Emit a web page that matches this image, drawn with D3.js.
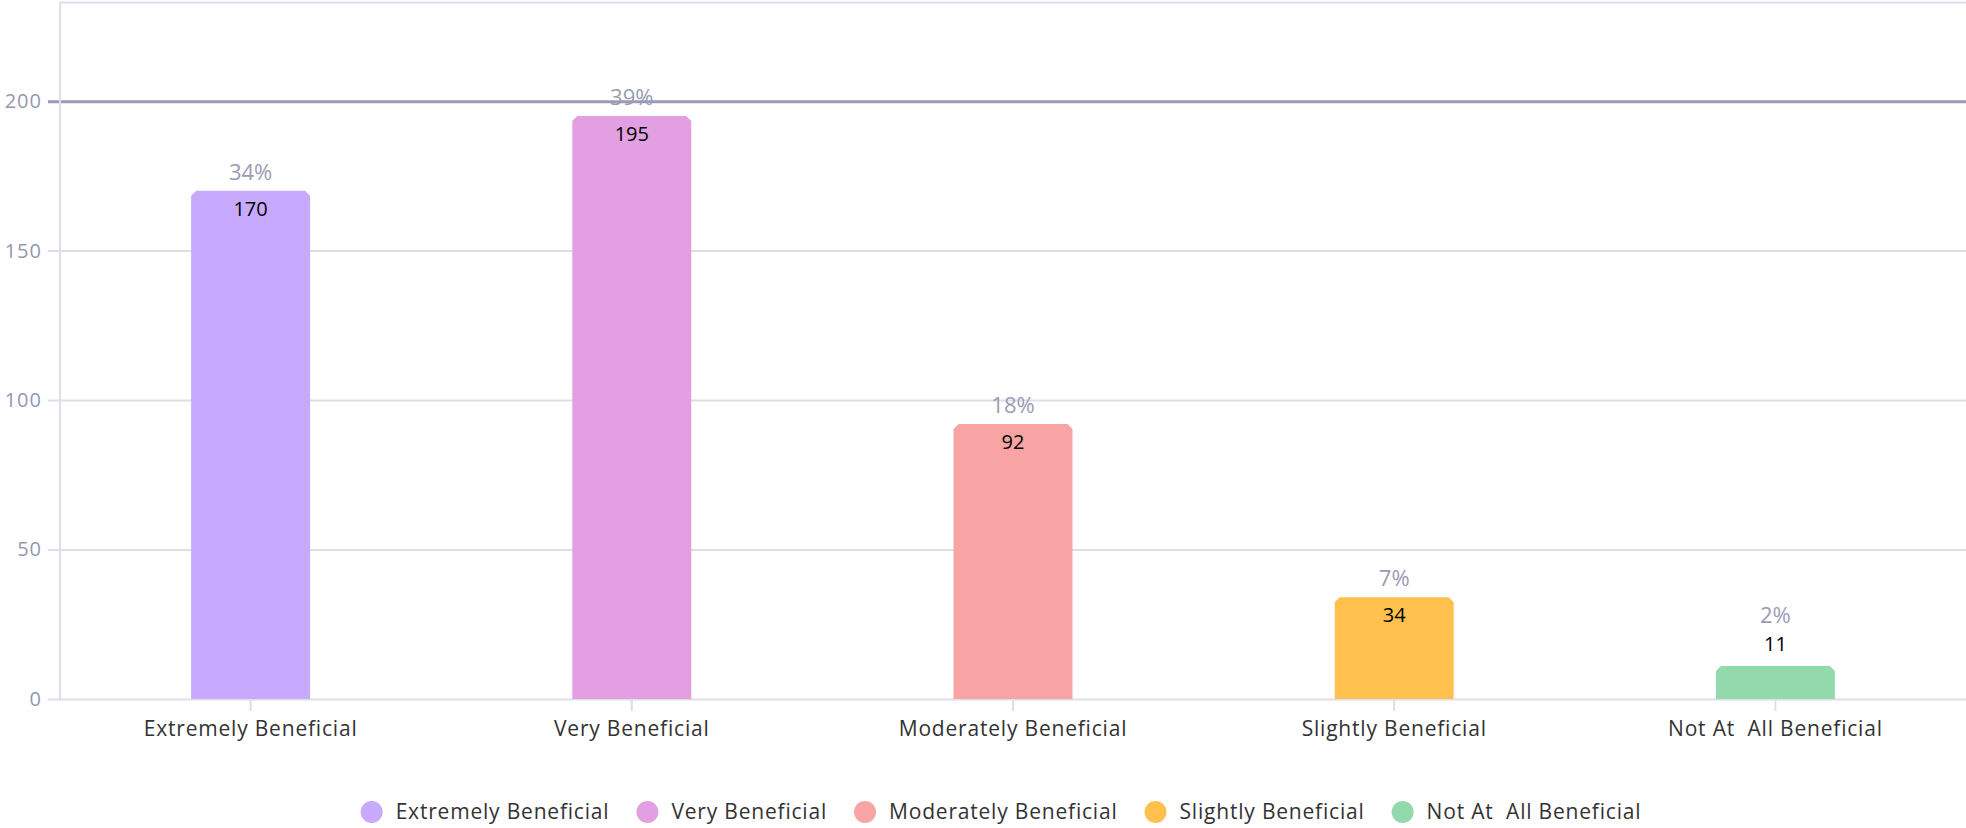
<!DOCTYPE html>
<html>
<head>
<meta charset="utf-8">
<script src="https://cdn.jsdelivr.net/npm/d3@7"></script>
<style>
    body { margin: 0; background: #fff; }
    svg { display: block; }
</style>
</head>
<body>
<div id="main"></div>
<script>
// data
const categories = ["Extremely Beneficial", "Very Beneficial", "Moderately Beneficial", "Slightly Beneficial", "Not At  All Beneficial"];
const counts = [170, 195, 92, 34, 11];
const percents = ["34%", "39%", "18%", "7%", "2%"];
const colors = ["#c7a9fe", "#e2a0e2", "#f9a4a4", "#ffc04e", "#92d9ac"];
const yTicks = [0, 50, 100, 150, 200];
const highlightValue = 200;

const ctx = {
    w: 1966,
    h: 828,
    left: 60,
    right: 1966,
    top: 2.5,
    bottom: 699,
    yMax: 233,
    font: "'Open Sans', 'DejaVu Sans', sans-serif",
    gridColor: "#dedeea",
    tickColor: "#9398b2",
    legendCenter: 1001,
};

function createViz() {
    let svg = d3.select("#main").append("svg")
        .attr("width", ctx.w)
        .attr("height", ctx.h)
        .style("font-family", ctx.font);

    let x = d3.scaleBand()
        .domain(categories)
        .range([ctx.left, ctx.right])
        .paddingInner(0.688)
        .paddingOuter(0.344);

    let y = d3.scaleLinear()
        .domain([0, ctx.yMax])
        .range([ctx.bottom, ctx.top]);

    // frame: top border
    svg.append("line")
        .attr("x1", ctx.left).attr("x2", ctx.right)
        .attr("y1", ctx.top).attr("y2", ctx.top)
        .style("stroke", ctx.gridColor).style("stroke-width", 2);

    // y axis with gridlines
    let yAxis = d3.axisLeft(y)
        .tickValues(yTicks)
        .tickPadding(6);

    let gy = svg.append("g")
        .attr("transform", `translate(${ctx.left},0)`)
        .call(yAxis);
    gy.select(".domain").remove();
    gy.selectAll(".tick line")
        .attr("x1", -12)
        .attr("x2", ctx.right - ctx.left)
        .style("stroke", d => d === highlightValue ? "#9a9cb4" : ctx.gridColor)
        .style("stroke-width", d => d === highlightValue ? 3 : 2);
    gy.selectAll(".tick text")
        .attr("x", -18)
        .style("fill", ctx.tickColor)
        .style("font-size", "20px")
        .style("font-family", ctx.font)
        .style("letter-spacing", "1px");

    svg.append("line")
        .attr("x1", ctx.left).attr("x2", ctx.left)
        .attr("y1", ctx.top).attr("y2", ctx.bottom)
        .style("stroke", ctx.gridColor).style("stroke-width", 2);

    // x axis
    let xAxis = d3.axisBottom(x).tickSize(12).tickPadding(10);
    let gx = svg.append("g")
        .attr("transform", `translate(0,${ctx.bottom})`)
        .call(xAxis);
    gx.select(".domain").remove();
    gx.selectAll(".tick line").style("stroke", ctx.gridColor).style("stroke-width", 2);
    gx.selectAll(".tick text")
        .style("fill", "#333")
        .style("font-size", "21px")
        .style("font-family", ctx.font)
        .style("letter-spacing", "0.8px")
        .style("white-space", "pre");

    // bars with chamfered top corners
    const c = 5;
    let bars = svg.append("g").selectAll("g")
        .data(categories)
        .enter().append("g");

    bars.append("path")
        .attr("d", (d, i) => {
            let x0 = x(d), x1 = x(d) + x.bandwidth();
            let yt = y(counts[i]), yb = y(0);
            return `M${x0},${yb}L${x0},${yt + c}L${x0 + c},${yt}L${x1 - c},${yt}L${x1},${yt + c}L${x1},${yb}Z`;
        })
        .style("fill", (d, i) => colors[i]);

    bars.append("text")
        .attr("x", d => x(d) + x.bandwidth() / 2)
        .attr("y", (d, i) => {
            let yt = y(counts[i]);
            return (y(0) - yt) < 45 ? yt - 15 : yt + 25;
        })
        .attr("text-anchor", "middle")
        .style("font-size", "20px")
        .style("fill", "#000")
        .text((d, i) => counts[i]);

    bars.append("text")
        .attr("x", d => x(d) + x.bandwidth() / 2)
        .attr("y", (d, i) => {
            let yt = y(counts[i]);
            return (y(0) - yt) < 45 ? yt - 43 : yt - 11;
        })
        .attr("text-anchor", "middle")
        .style("font-size", "22px")
        .style("fill", "#9a9cb5")
        .text((d, i) => percents[i]);

    // legend
    let legend = svg.append("g").attr("transform", "translate(0,812)");
    let items = legend.selectAll("g")
        .data(categories)
        .enter().append("g");
    items.append("circle")
        .attr("r", 11)
        .style("fill", (d, i) => colors[i]);
    items.append("text")
        .attr("x", 24)
        .attr("y", 7)
        .style("font-size", "21px")
        .style("fill", "#333")
        .style("letter-spacing", "0.8px")
        .style("white-space", "pre")
        .text(d => d);

    let widths = [];
    items.select("text").each(function () { widths.push(this.getComputedTextLength()); });
    let gap = 38;
    let total = d3.sum(widths, w => 24 + w) + gap * (widths.length - 1) + 11;
    let cx = ctx.legendCenter - total / 2 + 11;
    items.attr("transform", (d, i) => {
        let pos = cx;
        cx += 24 + widths[i] + gap;
        return `translate(${pos},0)`;
    });
}

createViz();
</script>
</body>
</html>
